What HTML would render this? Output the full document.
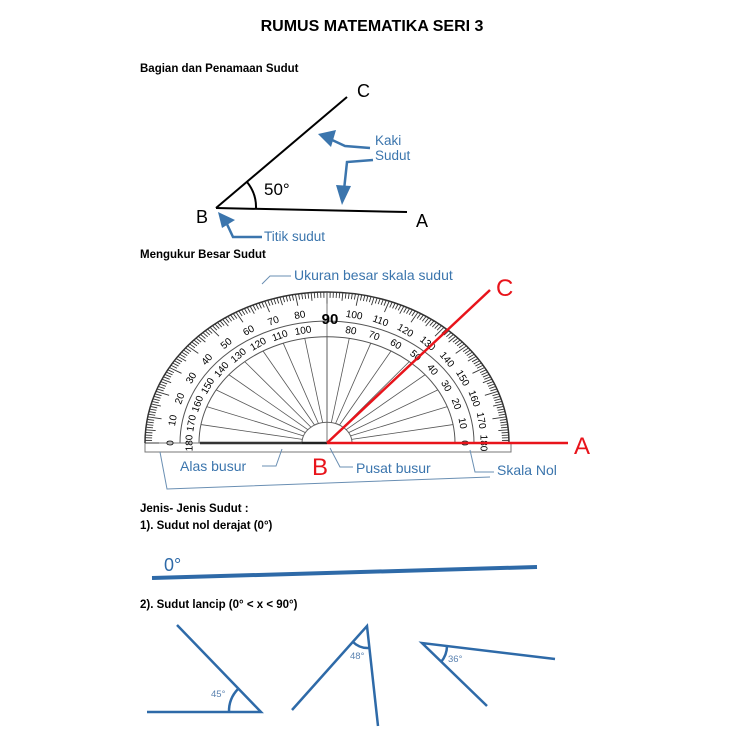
<!DOCTYPE html>
<html><head><meta charset="utf-8"><style>
body{margin:0;background:#fff;width:732px;height:732px;overflow:hidden}
svg{display:block}
text{font-family:"Liberation Sans",Arial,sans-serif}
</style></head><body>
<svg id="s" width="732" height="732" viewBox="0 0 732 732">
<text x="372" y="31" text-anchor="middle" font-size="16" font-weight="bold">RUMUS MATEMATIKA SERI 3</text>
<text x="140" y="72" font-size="11.5" font-weight="bold">Bagian dan Penamaan Sudut</text>
<g stroke="#000" stroke-width="2" fill="none">
<line x1="216" y1="208" x2="347" y2="97"/>
<line x1="216" y1="208" x2="407" y2="212"/>
<path d="M247,182 A40,40 0 0 1 256,209"/>
</g>
<text x="357" y="97" font-size="18">C</text>
<text x="196" y="223" font-size="18">B</text>
<text x="416" y="227" font-size="18">A</text>
<text x="264" y="195" font-size="17">50°</text>
<g stroke="#3b75ad" stroke-width="2.5" fill="none">
<polyline points="370,148 345,146 330,139"/>
<polyline points="373,160 347,162 344,190"/>
<polyline points="262,237 233,237 226,222"/>
</g>
<g fill="#3b75ad">
<polygon points="318,134 336,130 331,147"/>
<polygon points="342,205 336,185 351,186"/>
<polygon points="218,212 222,228 235,220"/>
</g>
<g fill="#3b75ad" font-size="13.5">
<text x="375" y="145">Kaki</text><text x="375" y="160">Sudut</text>
<text x="264" y="241">Titik sudut</text>
</g>
<text x="140" y="258" font-size="11.5" font-weight="bold">Mengukur Besar Sudut</text>
<g id="prot"></g>
<g fill="#3b75ad" font-size="14">
<text x="294" y="280">Ukuran besar skala sudut</text>
<text x="180" y="471">Alas busur</text>
<text x="356" y="473">Pusat busur</text>
<text x="497" y="475">Skala Nol</text>
</g>
<g stroke="#6a8fb3" stroke-width="1" fill="none">
<polyline points="262,284 270,276 291,276"/>
<polyline points="262,466 276,466 282,449"/>
<polyline points="353,467 340,467 330,448"/>
<polyline points="494,472 475,472 470,450"/>
<polyline points="160,452 167,489 490,477"/>
</g>
<g stroke="#e8141b" stroke-width="2.5">
<line x1="327" y1="443" x2="490" y2="290"/>
<line x1="327" y1="443" x2="568" y2="443"/>
</g>
<g fill="#e8141b" font-size="24">
<text x="496" y="296">C</text>
<text x="574" y="454">A</text>
<text x="312" y="475">B</text>
</g>
<text x="140" y="512" font-size="11.5" font-weight="bold">Jenis- Jenis Sudut :</text>
<text x="140" y="529" font-size="11.5" font-weight="bold">1). Sudut nol derajat (0°)</text>
<line x1="152" y1="578" x2="537" y2="567" stroke="#2e6aa8" stroke-width="4"/>
<text x="164" y="571" font-size="18" fill="#2e6aa8">0°</text>
<text x="140" y="608" font-size="11.5" font-weight="bold">2). Sudut lancip (0° &lt; x &lt; 90°)</text>
<g stroke="#2e6aa8" stroke-width="2.5" fill="none">
<polyline points="147,712 261,712 177,625"/>
<path d="M229,712 A32,32 0 0 1 238,689"/>
<polyline points="292,710 367,626 378,726"/>
<path d="M353,642 A21,21 0 0 0 369,648"/>
<polyline points="555,659 422,643 487,706"/>
<path d="M447,646 A25,25 0 0 1 441,662"/>
</g>
<g fill="#5a82b0" font-size="9.5">
<text x="211" y="697">45°</text>
<text x="350" y="659">48°</text>
<text x="448" y="662">36°</text>
</g>
</svg>
<script>
(function(){
var g=document.getElementById('prot'),ns='http://www.w3.org/2000/svg';
var cx=327,cy=443,k=151/182;
function P(a,r){var t=a*Math.PI/180;return [cx+r*Math.cos(t),cy-r*Math.sin(t)*k];}
function el(n,at){var e=document.createElementNS(ns,n);for(var a in at)e.setAttribute(a,at[a]);g.appendChild(e);return e;}
function arc(r,w,c){var a=P(180,r),b=P(0,r);el('path',{d:'M'+a[0]+','+a[1]+' A'+r+','+(r*k)+' 0 0 1 '+b[0]+','+b[1],fill:'none',stroke:c||'#555','stroke-width':w||1});}
el('rect',{x:145,y:443,width:366,height:9,fill:'#fff',stroke:'#777','stroke-width':1});
arc(182,1.5,'#333');arc(147,1,'#555');arc(128,1,'#555');
var s=P(180,25),e=P(0,25);
el('path',{d:'M'+s[0]+','+s[1]+' A25,'+(25*k)+' 0 0 1 '+e[0]+','+e[1],fill:'none',stroke:'#666'});
el('line',{x1:145,y1:443,x2:511,y2:443,stroke:'#777'});
el('line',{x1:200,y1:443,x2:327,y2:443,stroke:'#222','stroke-width':2.5});
for(var d=0;d<=180;d++){var l=d%10==0?14:(d%5==0?10:7);var a=P(d,182),b=P(d,182-l);
el('line',{x1:a[0],y1:a[1],x2:b[0],y2:b[1],stroke:'#333','stroke-width':0.9});}
for(d=0;d<=180;d+=10){var a=P(d,128),b=P(d,25);el('line',{x1:a[0],y1:a[1],x2:b[0],y2:b[1],stroke:'#555','stroke-width':0.8});
if(d==90)continue;
var p=P(d,157),q=P(d,138);
var t1=el('text',{x:p[0],y:p[1]+3.5,'font-size':10,'text-anchor':'middle',transform:'rotate('+(90-d)+' '+p[0]+' '+p[1]+')'});t1.textContent=180-d;
var t2=el('text',{x:q[0],y:q[1]+3.5,'font-size':10,'text-anchor':'middle',transform:'rotate('+(90-d)+' '+q[0]+' '+q[1]+')'});t2.textContent=d;}
el('line',{x1:327,y1:292,x2:327,y2:443,stroke:'#555','stroke-width':0.8});
var t=el('text',{x:330,y:324,'font-size':15,'font-weight':'bold','text-anchor':'middle'});t.textContent='90';
})();
</script>
</body></html>
